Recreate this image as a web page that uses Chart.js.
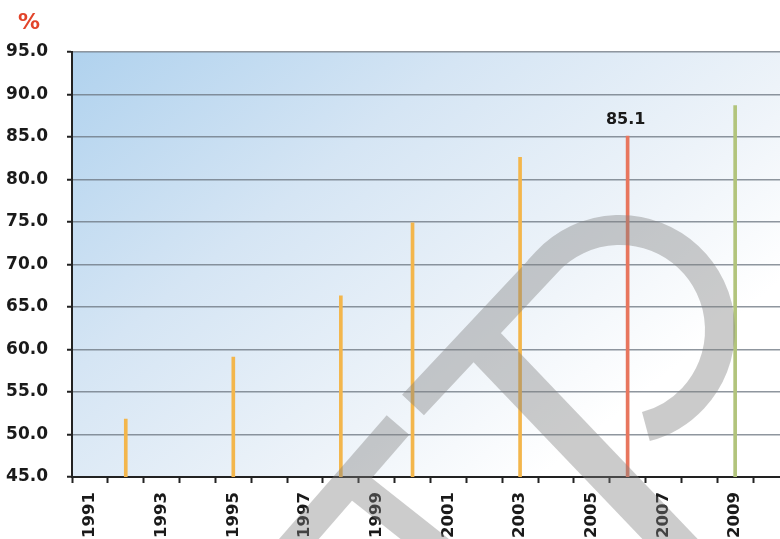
<!DOCTYPE html>
<html><head><meta charset="utf-8">
<script src="https://cdn.jsdelivr.net/npm/chart.js@4.4.1/dist/chart.umd.min.js"></script>
<style>
html,body{margin:0;padding:0;background:#fff;overflow:hidden;width:780px;height:539px;}
#wrap{position:relative;width:800px;height:539px;}
</style></head><body>
<div id="wrap"><canvas id="c"></canvas></div>
<script>
// ---- data ----
const years = ['1991','1992','1993','1994','1995','1996','1997','1998','1999','2000',
               '2001','2002','2003','2004','2005','2006','2007','2008','2009','2010'];
const shareValues = [null,51.8,null,null,59.1,null,null,66.3,null,74.9,
                     null,null,82.6,null,null,85.1,null,null,88.7,null];
const highlightYear = '2006';
const highlightText = '85.1';
const latestYear = '2009';
const yMin = 45, yMax = 95, yStep = 5;
const unitLabel = '%';

// ---- styles ----
const barColors = years.map(y => y === highlightYear ? '#e8765e' : (y === latestYear ? '#b2c47c' : '#f3b64c'));

const bgPlugin = {
  id: 'bg',
  beforeDraw(chart) {
    const {ctx, chartArea: a} = chart;
    const g = ctx.createLinearGradient(a.left, a.top, a.left + (a.right - a.left) * 0.55, a.bottom + 60);
    g.addColorStop(0, '#b0d2ee');
    g.addColorStop(0.4, '#d5e5f4');
    g.addColorStop(0.75, '#edf3f9');
    g.addColorStop(1, '#ffffff');
    ctx.save();
    ctx.fillStyle = g;
    ctx.fillRect(a.left, a.top, a.right - a.left, a.bottom - a.top);
    ctx.restore();
  }
};

const textPlugin = {
  id: 'texts',
  afterDatasetsDraw(chart) {
    const {ctx} = chart;
    const meta = chart.getDatasetMeta(0);
    const i = years.indexOf(highlightYear);
    const el = meta.data[i];
    ctx.save();
    ctx.fillStyle = '#1a1a1a';
    ctx.font = 'bold 16px "DejaVu Sans"';
    ctx.textAlign = 'center';
    ctx.textBaseline = 'alphabetic';
    ctx.fillText(highlightText, el.x - 2, el.y - 12);
    ctx.restore();
  },
  afterDraw(chart) {
    const {ctx} = chart;
    ctx.save();
    ctx.fillStyle = '#e2442a';
    ctx.font = 'bold 22px "DejaVu Sans"';
    ctx.textAlign = 'left';
    ctx.textBaseline = 'alphabetic';
    ctx.fillText(unitLabel, 18, 29);
    ctx.restore();
  }
};

const watermarkPlugin = {
  id: 'watermark',
  afterDraw(chart) {
    const {ctx, canvas} = chart;
    const off = document.createElement('canvas');
    off.width = canvas.width; off.height = canvas.height;
    const o = off.getContext('2d');
    o.strokeStyle = '#808080';
    o.lineCap = 'butt';
    o.lineJoin = 'miter';
    // leg
    o.lineWidth = 40;
    o.beginPath();
    o.moveTo(478, 338);
    o.lineTo(692, 562);
    o.stroke();
    // bowl with rising stem
    o.lineWidth = 30;
    o.beginPath();
    o.moveTo(413, 405);
    o.lineTo(547, 262);
    o.arc(620, 330, 100, 223 * Math.PI / 180, (75 + 360) * Math.PI / 180, false);
    o.stroke();
    // left strokes
    o.beginPath();
    o.moveTo(285, 555);
    o.lineTo(398, 425);
    o.stroke();
    o.beginPath();
    o.moveTo(345, 476);
    o.lineTo(445, 555);
    o.stroke();
    ctx.save();
    ctx.setTransform(1, 0, 0, 1, 0, 0);
    ctx.globalAlpha = 0.4;
    ctx.drawImage(off, 0, 0);
    ctx.restore();
  }
};

new Chart(document.getElementById('c'), {
  type: 'bar',
  data: {
    labels: years,
    datasets: [{
      data: shareValues,
      backgroundColor: barColors,
      borderWidth: 0,
      barThickness: 3
    }]
  },
  options: {
    responsive: true,
    maintainAspectRatio: false,
    animation: false,
    layout: {padding: {top: 52, right: 8, bottom: 0, left: 0}},
    plugins: {legend: {display: false}, tooltip: {enabled: false}, title: {display: false}},
    scales: {
      x: {
        offset: true,
        grid: {offset: true, drawOnChartArea: false, drawTicks: true, tickLength: 6, tickColor: '#222', tickWidth: 2},
        border: {display: true, color: '#222', width: 2},
        ticks: {
          autoSkip: false, maxRotation: 90, minRotation: 90, padding: 9,
          color: '#1a1a1a', font: {family: 'DejaVu Sans', weight: 'bold', size: 16.5},
          callback: function(v, i) { return i % 2 === 0 ? years[i] : ''; }
        },
        afterFit(s) { s.height = 62; }
      },
      y: {
        min: yMin, max: yMax,
        grid: {color: 'rgba(105,115,125,0.75)', lineWidth: 1.5, drawTicks: true, tickLength: 5, tickColor: '#222', tickWidth: 2},
        border: {display: true, color: '#222', width: 2},
        ticks: {
          stepSize: yStep, padding: 19, color: '#1a1a1a',
          font: {family: 'DejaVu Sans', weight: 'bold', size: 17},
          callback: v => Number(v).toFixed(1)
        },
        afterFit(s) { s.width = 72; }
      }
    }
  },
  plugins: [bgPlugin, textPlugin, watermarkPlugin]
});
</script>
</body></html>
